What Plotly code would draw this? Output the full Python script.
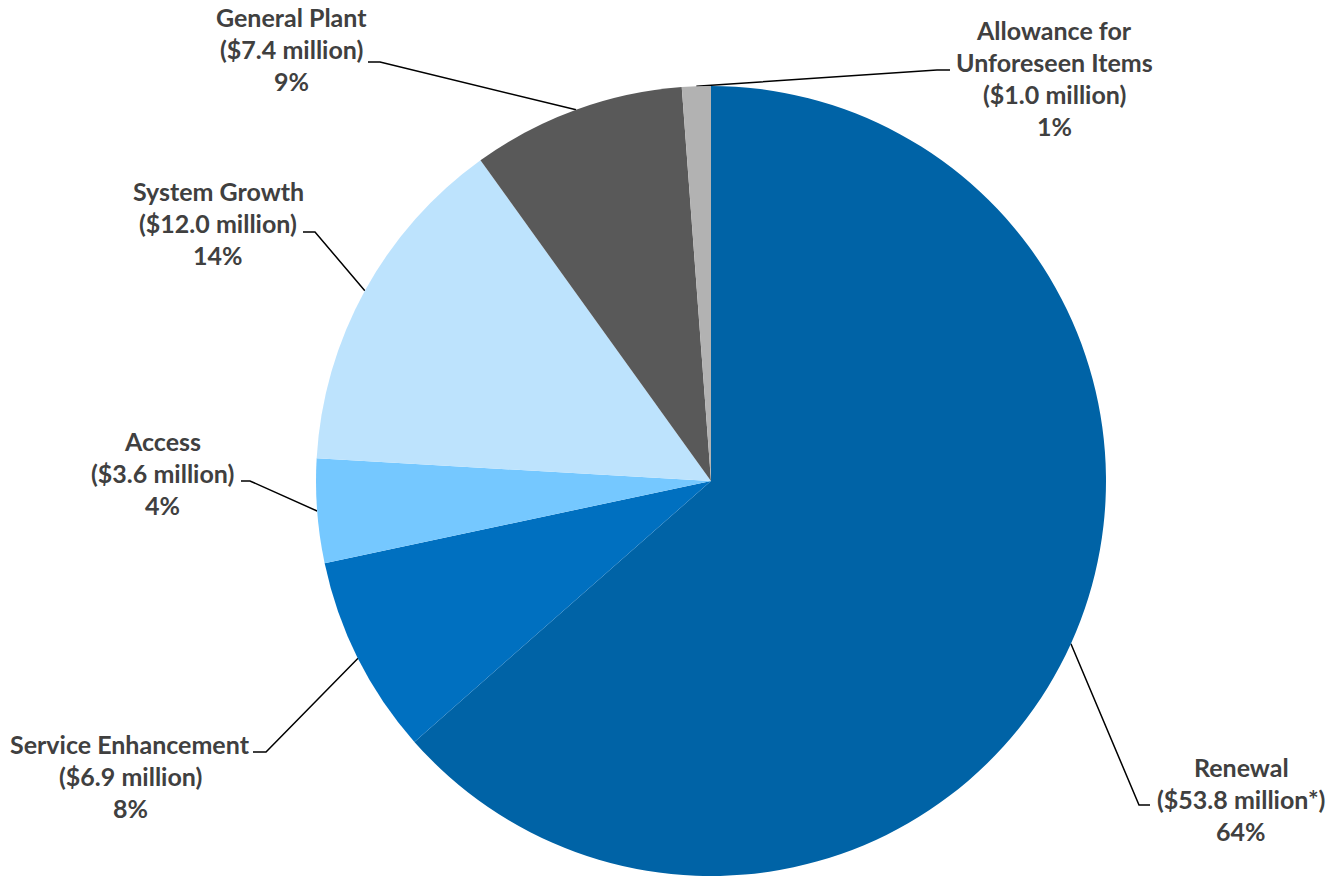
import math
import plotly.graph_objects as go

# ---- data ----
categories = ["Renewal", "Service Enhancement", "Access", "System Growth",
              "General Plant", "Allowance for Unforeseen Items"]
values = [53.8, 6.9, 3.6, 12.0, 7.4, 1.0]
amount_labels = ["($53.8 million*)", "($6.9 million)", "($3.6 million)",
                 "($12.0 million)", "($7.4 million)", "($1.0 million)"]
name_lines = [["Renewal"], ["Service Enhancement"], ["Access"], ["System Growth"],
              ["General Plant"], ["Allowance for", "Unforeseen Items"]]

# ---- styles / layout ----
colors = ["#0063A6", "#0070C0", "#75C8FF", "#BDE3FD", "#595959", "#B2B2B2"]
W, H = 1333, 876
CX, CY, R = 711, 481, 395
TEXT_COLOR = "#404040"
FONT = "Lato"
FS = 25
LINE_H = 32

# label layout (pixel positions): center x, top-line center y, elbow, horizontal end
label_pos = [
    dict(cx=1241, y0=767, elbow=(1139, 805), end=(1150, 805)),
    dict(cx=130, y0=744, elbow=(266, 752), end=(253, 752)),
    dict(cx=162, y0=441, elbow=(250, 481), end=(241, 481)),
    dict(cx=218, y0=191, elbow=(315, 232), end=(303, 232)),
    dict(cx=291, y0=17, elbow=(380, 62), end=(368, 62)),
    dict(cx=1054, y0=30, elbow=(937, 70), end=(950, 70)),
]

fig = go.Figure()
fig.add_trace(go.Pie(
    labels=categories, values=values, sort=False, direction="clockwise",
    rotation=0, marker=dict(colors=colors, line=dict(width=0)),
    textinfo="none", hoverinfo="label+value+percent", showlegend=False,
    domain=dict(x=[(CX - R) / W, (CX + R) / W],
                y=[(H - CY - R) / H, (H - CY + R) / H]),
))

total = sum(values)
cum = 0.0
annotations = []
for i, v in enumerate(values):
    mid = (cum + v / 2) / total * 2 * math.pi
    cum += v
    sx = CX + R * math.sin(mid)
    sy = CY - R * math.cos(mid)
    lp = label_pos[i]
    fig.add_trace(go.Scatter(
        x=[sx, lp["elbow"][0], lp["end"][0]],
        y=[sy, lp["elbow"][1], lp["end"][1]],
        mode="lines", line=dict(color="black", width=1.5),
        hoverinfo="skip", showlegend=False, xaxis="x", yaxis="y",
    ))
    pct = f"{round(v / total * 100)}%"
    lines = name_lines[i] + [amount_labels[i], pct]
    for j, t in enumerate(lines):
        annotations.append(dict(
            x=lp["cx"] / W, y=1 - (lp["y0"] + j * LINE_H) / H,
            xref="paper", yref="paper", text=f"<b>{t}</b>", showarrow=False,
            xanchor="center", yanchor="middle",
            font=dict(family=FONT, size=FS, color=TEXT_COLOR),
        ))

fig.update_layout(
    width=W, height=H, margin=dict(l=0, r=0, t=0, b=0),
    paper_bgcolor="white", plot_bgcolor="rgba(0,0,0,0)",
    xaxis=dict(range=[0, W], visible=False, domain=[0, 1], fixedrange=True),
    yaxis=dict(range=[H, 0], visible=False, domain=[0, 1], fixedrange=True),
    annotations=annotations,
)

fig.write_html("out.html")
